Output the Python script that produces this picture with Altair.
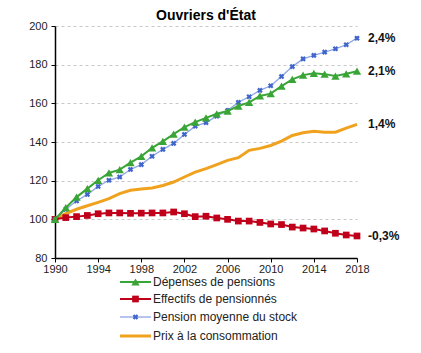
import altair as alt
import pandas as pd

years = list(range(1990, 2019))
depenses = [100, 106.0, 111.5, 115.9, 120.2, 124.0, 125.7, 129.3, 132.6, 137.0, 140.3, 144.1, 147.7,
            150.3, 152.5, 154.6, 156.0, 158.6, 160.5, 163.8, 165.0, 168.9, 172.4, 174.6, 175.5,
            175.1, 174.1, 175.3, 176.6]
effectifs = [100, 100.9, 101.4, 102.0, 102.9, 103.3, 103.3, 103.1, 103.2, 103.3, 103.3, 103.8, 102.9,
             101.4, 101.6, 100.7, 100.0, 99.1, 99.1, 98.4, 97.6, 97.3, 96.0, 95.5, 95.0, 94.0,
             92.8, 91.9, 91.4]
pension = [100, 105.2, 109.5, 112.9, 117.0, 120.2, 121.9, 125.8, 128.3, 132.6, 136.2, 139.3, 143.9,
           148.2, 150.0, 153.4, 156.3, 160.5, 163.4, 166.7, 169.1, 173.9, 179.0, 183.0, 184.8,
           186.5, 188.2, 190.3, 193.7]
prix = [100, 103.0, 105.2, 107.0, 108.8, 110.7, 113.3, 115.0, 115.7, 116.2, 117.5, 119.3, 121.9,
        124.4, 126.2, 128.3, 130.5, 131.9, 135.7, 136.7, 138.2, 140.5, 143.4, 144.8, 145.6,
        145.1, 145.1, 147.2, 149.1]

series_names = ["Dépenses de pensions", "Effectifs de pensionnés",
                "Pension moyenne du stock", "Prix à la consommation"]
end_labels = ["2,1%", "-0,3%", "2,4%", "1,4%"]
x_ticks = [1990, 1994, 1998, 2002, 2006, 2010, 2014, 2018]
y_ticks = [80, 100, 120, 140, 160, 180, 200]

FONT = "Liberation Sans"
W, H = 302, 232
PAD_L, PAD_T = 55, 26

styles = [
    dict(color="#3aa537", width=2, shape="triangle-up", mcolor="#3aa537", msize=70, angle=0),
    dict(color="#c0001a", width=2, shape="square", mcolor="#c0001a", msize=45, angle=0),
    dict(color="#8ea6e6", width=1.3, shape="cross", mcolor="#4066cc", msize=32, angle=45),
    dict(color="#f0a21e", width=3, shape=None, mcolor=None, msize=0, angle=0),
]
values = [depenses, effectifs, pension, prix]

xscale = alt.Scale(domain=[1990, 2018], nice=False, zero=False)
yscale = alt.Scale(domain=[80, 200], nice=False, zero=False)

xaxis = alt.Axis(
    values=x_ticks, format="d", title=None, grid=False, domainColor="black", domainWidth=1.5,
    tickColor="black", tickSize=4, labelFont=FONT, labelFontSize=11, labelColor="#222",
    labelPadding=1, labelFlush=False, labelOverlap=False)
yaxis = alt.Axis(
    values=y_ticks, tickCount=7, title=None, grid=True, gridDash=[3, 3], gridColor="#c8c8c8",
    domainColor="black", domainWidth=1.5, tickColor="black", tickSize=4,
    labelFont=FONT, labelFontSize=11, labelColor="#222", labelPadding=4,
    labelOverlap=False, labelFlush=False, format="d")
xenc = alt.X("year:Q", scale=xscale, axis=xaxis)
yenc = alt.Y("v:Q", scale=yscale, axis=yaxis)

layers = []
draw_order = [3, 1, 2, 0]
for i in draw_order:
    st = styles[i]
    df = pd.DataFrame({"year": years, "v": values[i]})
    base = alt.Chart(df)
    layers.append(base.mark_line(color=st["color"], strokeWidth=st["width"]).encode(x=xenc, y=yenc))
    if st["shape"]:
        layers.append(base.mark_point(shape=st["shape"], filled=True, color=st["mcolor"],
                                      size=st["msize"], angle=st["angle"], opacity=1)
                      .encode(x=xenc, y=yenc))

# end-of-line labels
end_df = pd.DataFrame({"year": [years[-1]] * 4,
                       "v": [values[i][-1] for i in range(4)],
                       "lab": end_labels})
layers.append(alt.Chart(end_df).mark_text(align="left", baseline="middle", dx=11, dy=0,
                                          font=FONT, fontSize=12, fontWeight="bold",
                                          color="#111")
              .encode(x=xenc, y=yenc, text="lab:N"))

# manual legend below the plot
leg_rows = [256, 273, 291, 310]
for i, name in enumerate(series_names):
    st = styles[i]
    ldf = pd.DataFrame({"lab": [name]})
    lb = alt.Chart(ldf)
    layers.append(lb.mark_rule(color=st["color"], strokeWidth=st["width"])
                  .encode(x=alt.value(65), x2=alt.value(96), y=alt.value(leg_rows[i])))
    if st["shape"]:
        layers.append(lb.mark_point(shape=st["shape"], filled=True, color=st["mcolor"],
                                    size=st["msize"], angle=st["angle"], opacity=1)
                      .encode(x=alt.value(80.5), y=alt.value(leg_rows[i])))
    layers.append(lb.mark_text(align="left", baseline="middle", font=FONT, fontSize=12,
                               color="#222")
                  .encode(x=alt.value(98), y=alt.value(leg_rows[i]), text="lab:N"))

chart = alt.layer(*layers).properties(
    width=W, height=H,
    title=alt.TitleParams("Ouvriers d'État", font=FONT, fontSize=14, fontWeight="bold",
                          anchor="middle", frame="group", offset=4, dy=7, color="black"),
    autosize=alt.AutoSizeParams(type="none"),
    padding={"left": PAD_L, "top": PAD_T, "right": 64, "bottom": 95},
).configure_view(stroke=None)

chart.save("out.html", embed_options={"renderer": "svg", "actions": False})
